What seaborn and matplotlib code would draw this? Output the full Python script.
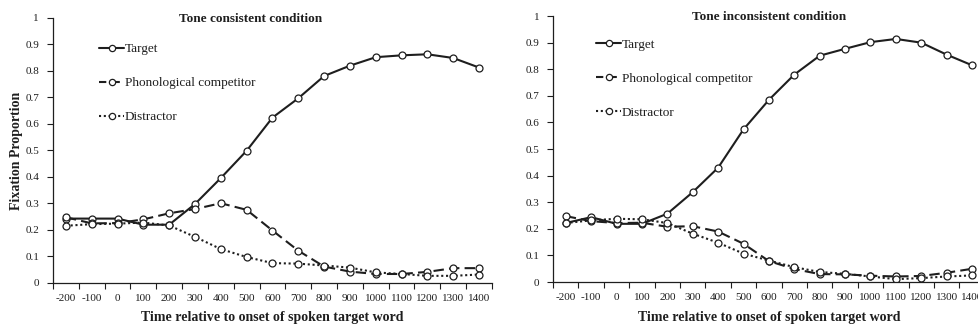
import pandas as pd
import numpy as np
import matplotlib
matplotlib.use("Agg")
import matplotlib.pyplot as plt
from matplotlib.lines import Line2D
import seaborn as sns

times = ["-200", "-100", "0", "100", "200", "300", "400", "500", "600",
         "700", "800", "900", "1000", "1100", "1200", "1300", "1400"]

# tone consistent condition
cons_target = [0.243, 0.243, 0.243, 0.22, 0.22, 0.298, 0.396, 0.499, 0.624, 0.697,
               0.781, 0.82, 0.852, 0.859, 0.863, 0.849, 0.813]
cons_phon = [0.248, 0.225, 0.226, 0.24, 0.263, 0.279, 0.301, 0.276, 0.198, 0.122,
             0.062, 0.043, 0.034, 0.034, 0.042, 0.056, 0.056]
cons_dist = [0.216, 0.222, 0.224, 0.228, 0.217, 0.174, 0.128, 0.098, 0.075, 0.073,
             0.066, 0.058, 0.04, 0.034, 0.027, 0.027, 0.032]

# tone inconsistent condition
inc_target = [0.222, 0.244, 0.219, 0.219, 0.257, 0.338, 0.43, 0.574, 0.685, 0.78,
              0.851, 0.877, 0.902, 0.914, 0.9, 0.855, 0.815]
inc_phon = [0.248, 0.229, 0.222, 0.223, 0.208, 0.21, 0.19, 0.144, 0.079, 0.049,
            0.03, 0.029, 0.024, 0.021, 0.023, 0.035, 0.05]
inc_dist = [0.222, 0.232, 0.238, 0.236, 0.222, 0.182, 0.148, 0.107, 0.081, 0.056,
            0.038, 0.031, 0.021, 0.011, 0.015, 0.021, 0.025]

labels = ["Target", "Phonological competitor", "Distractor"]
titles = ["Tone consistent condition", "Tone inconsistent condition"]


def make_df(t, p, d):
    rows = []
    for name, vals in zip(labels, [t, p, d]):
        for i, v in enumerate(vals):
            rows.append({"pos": i, "time": times[i], "series": name, "value": v})
    return pd.DataFrame(rows)


sns.set_style("white")
plt.rcParams["font.family"] = ["Liberation Serif", "DejaVu Serif"]
ink = "#1e1e1e"

fig = plt.figure(figsize=(9.79, 3.28), dpi=100)
ax1 = fig.add_axes([0.0541, 0.1372, 0.4484, 0.808])
ax2 = fig.add_axes([0.5649, 0.1400, 0.4410, 0.811])

dashes = {"Target": "", "Phonological competitor": (5, 2.5),
          "Distractor": (1, 1.3)}
leg_styles = ["-", (0, (3.5, 3)), (0, (1, 1.3))]

frames = [make_df(cons_target, cons_phon, cons_dist),
          make_df(inc_target, inc_phon, inc_dist)]
leg_anchor = [(0.105, 0.905), (0.100, 0.915)]

for ax, df, title, anc in zip([ax1, ax2], frames, titles, leg_anchor):
    sns.lineplot(data=df, x="pos", y="value", hue="series", style="series",
                 dashes=dashes, palette=[ink] * 3, markers=["o"] * 3,
                 markersize=5, markerfacecolor="white", markeredgecolor=ink,
                 markeredgewidth=0.9, linewidth=1.5, ax=ax, legend=False)
    ax.set_xlim(-0.5, len(times) - 0.5)
    ax.set_ylim(0, 1)
    ax.set_xticks(range(len(times)))
    ax.set_xticklabels(times, fontsize=8, color=ink)
    ax.set_xticks(np.arange(-0.5, len(times)), minor=True)
    ax.tick_params(axis="x", which="major", length=0, pad=8)
    ax.tick_params(axis="x", which="minor", length=4, width=0.8,
                   direction="out", color=ink, bottom=True)
    ax.set_yticks(np.arange(0, 1.01, 0.1))
    ax.set_yticklabels(["0"] + ["%.1f" % v for v in np.arange(0.1, 0.95, 0.1)] + ["1"],
                       fontsize=8, color=ink)
    ax.tick_params(axis="y", length=4, width=0.8, direction="out", color=ink,
                   left=True, pad=6)
    for s in ["top", "right"]:
        ax.spines[s].set_visible(False)
    for s in ["left", "bottom"]:
        ax.spines[s].set_color(ink)
        ax.spines[s].set_linewidth(0.9)
    ax.set_xlabel("Time relative to onset of spoken target word",
                  fontsize=10, fontweight="bold", color=ink, labelpad=6)
    ax.set_ylabel("")
    ax.text(0.45 if ax is ax1 else 0.5, 0.995, title, transform=ax.transAxes,
            ha="center", va="center", fontsize=9.5, fontweight="bold", color=ink)
    handles = [Line2D([], [], color=ink, linestyle=ls, linewidth=1.5, marker="o",
                      markersize=4.5, markerfacecolor="white", markeredgecolor=ink,
                      markeredgewidth=0.9) for ls in leg_styles]
    ax.legend(handles=handles, labels=labels, loc="upper left",
              bbox_to_anchor=anc, frameon=False, fontsize=9.5,
              handlelength=1.9, handletextpad=0.05, labelspacing=1.65,
              borderpad=0, borderaxespad=0, labelcolor=ink)

ax1.set_ylabel("Fixation Proportion", fontsize=10, fontweight="bold", color=ink)
ax1.yaxis.set_label_coords(-0.068, 0.5)

fig.savefig("out.png", dpi=100)
plt.close(fig)
